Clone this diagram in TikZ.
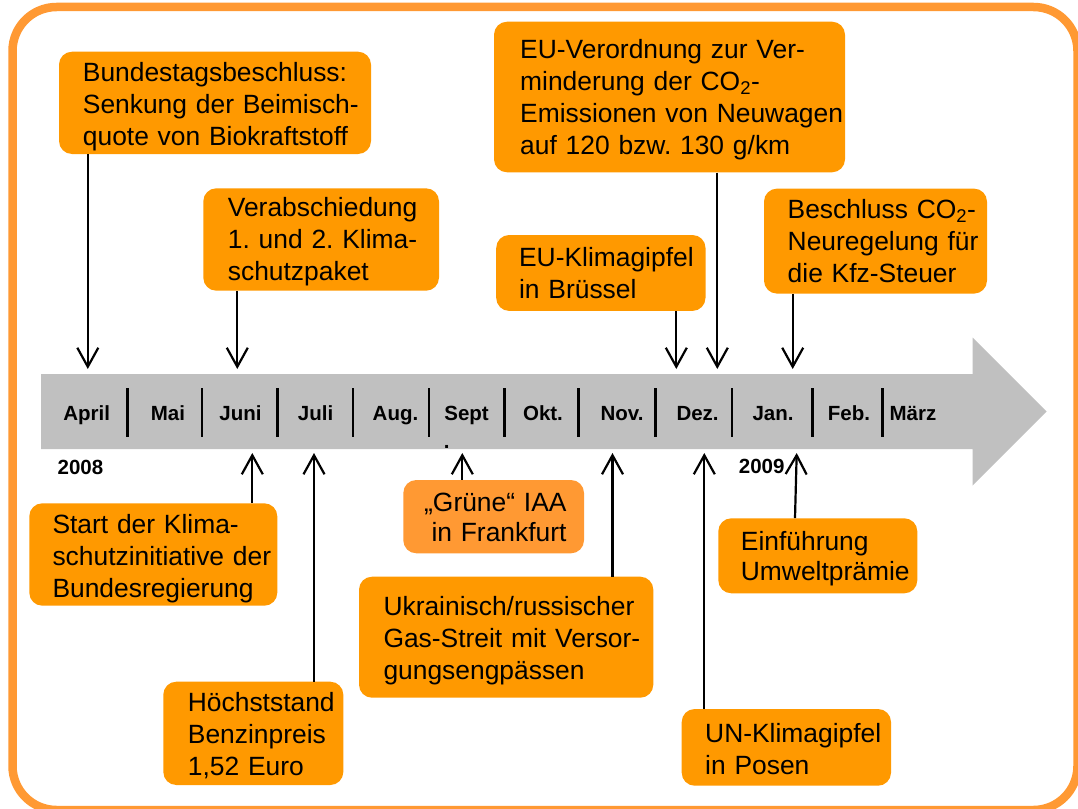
\documentclass[tikz,border=0pt]{standalone}
\usepackage{fontspec}
\setmainfont{Liberation Sans}
\usetikzlibrary{arrows.meta}
\definecolor{frameorange}{HTML}{FF9933}
\definecolor{boxorange}{HTML}{FF9900}
\definecolor{lightorange}{HTML}{FF9933}
\definecolor{arrowgray}{HTML}{C0C0C0}
\begin{document}
\frenchspacing
\begin{tikzpicture}[x=1pt,y=-1pt,
  box/.style={fill=boxorange, rounded corners=13pt, inner sep=0pt},
  lbox/.style={fill=lightorange, rounded corners=13pt, inner sep=0pt},
  txt/.style={anchor=base west, inner sep=0pt, text width=400pt, align=left,
    font=\fontsize{26.4}{32}\selectfont\frenchspacing},
  month/.style={anchor=base, inner sep=0pt, font=\bfseries\fontsize{20.5}{24}\selectfont},
  sepline/.style={line width=2.8pt, black},
  arr/.style={line width=2.2pt, -{Straight Barb[length=19pt,width=21pt]}}]
\useasboundingbox (0,0) rectangle (1078,808);
\fill[white] (0,0) rectangle (1078,808);
% frame
\draw[frameorange, line width=8.5pt, rounded corners=44pt] (12.5,7) rectangle (1077.5,810);
% timeline arrow
\fill[arrowgray] (41,374) -- (972.5,374) -- (972.5,337.5) -- (1046.7,411.5)
  -- (972.5,485.5) -- (972.5,449) -- (41,449) -- cycle;
% months
\node[month] (apr) at (86.6,420) {April};
\node[month] (mai) at (168,420) {Mai};
\node[month] (jun) at (240.5,420) {Juni};
\node[month] (jul) at (315.6,420) {Juli};
\node[month] (aug) at (395.5,420) {Aug.};
\node[month] (sep) at (466.6,420) {Sept};
\node[month] (okt) at (543,420) {Okt.};
\node[month] (nov) at (622,420) {Nov.};
\node[month] (dez) at (697.6,420) {Dez.};
\node[month] (jan) at (773,420) {Jan.};
\node[month] (feb) at (849,420) {Feb.};
\node[month] (mar) at (913,420) {März};
\node[month] (dot) at (446.7,448) {.};
\node[month] (y2008) at (80.5,474) {2008};
\node[month] (y2009) at (761.7,473) {2009};
% separators
\foreach \sx in {127.4,202,277.5,353,429,504.5,578.7,655.2,732,812.5,882.3}
  \draw[sepline] (\sx,388) -- (\sx,437);
% boxes
\node[box, minimum width=312pt, minimum height=102.3pt] (b1) at (215,102.85) {};
\node[txt] (b1t) at (82.7,81.7) {Bundestagsbeschluss:\\Senkung der Beimisch-\\quote von Biokraftstoff};
\node[box, minimum width=235.7pt, minimum height=102.4pt] (b2) at (321.15,239.5) {};
\node[txt] (b2t) at (227.7,216.7) {Verabschiedung\\1. und 2. Klima-\\schutzpaket};
\node[box, minimum width=351pt, minimum height=150.6pt] (b3) at (669.5,97) {};
\node[txt] (b3t) at (520,58.3) {EU-Verordnung zur Ver-\\minderung der CO\textsubscript{2}-\\Emissionen von Neuwagen\\auf 120 bzw. 130 g/km};
\node[box, minimum width=209.3pt, minimum height=75.9pt] (b4) at (600.85,272.95) {};
\node[txt] (b4t) at (518.9,266) {EU-Klimagipfel\\in Brüssel};
\node[box, minimum width=223pt, minimum height=105pt] (b5) at (875.5,241.1) {};
\node[txt] (b5t) at (787.5,218.6) {Beschluss CO\textsubscript{2}-\\Neuregelung für\\die Kfz-Steuer};
\node[box, minimum width=248pt, minimum height=102.4pt] (b6) at (153.3,554.5) {};
\node[txt] (b6t) at (52.3,533.3) {Start der Klima-\\schutzinitiative der\\Bundesregierung};
\node[box, minimum width=180pt, minimum height=103.3pt] (b7) at (253.3,733.35) {};
\node[txt] (b7t) at (187.7,711.7) {Höchststand\\Benzinpreis\\1,52 Euro};
\node[lbox, minimum width=180.7pt, minimum height=73.3pt] (b8) at (493.65,516.65) {};
\node[txt, anchor=base east, text width=200pt, align=right, font=\fontsize{26.4}{30}\selectfont] (b8t) at (566.7,511.7) {„Grüne“ IAA\\in Frankfurt};
\node[box, minimum width=294.3pt, minimum height=121pt] (b9) at (506.15,637.2) {};
\node[txt] (b9t) at (383.3,615) {Ukrainisch/russischer\\Gas-Streit mit Versor-\\gungsengpässen};
\node[box, minimum width=209.3pt, minimum height=76.7pt] (b10) at (786.35,747.35) {};
\node[txt] (b10t) at (705,742.3) {UN-Klimagipfel\\in Posen};
\node[box, minimum width=199pt, minimum height=75pt] (b11) at (817.8,555.8) {};
\node[txt, font=\fontsize{26.4}{30}\selectfont] (b11t) at (740.7,550) {Einführung\\Umweltprämie};
% arrow tips on the timeline
\coordinate (dApr) at (87.8,369);
\coordinate (dJun) at (237.3,369);
\coordinate (dKlima) at (676.3,369);
\coordinate (dVerord) at (717.3,369);
\coordinate (dBeschl) at (792.7,369);
\coordinate (uJun) at (252.3,453);
\coordinate (uJul) at (314,453);
\coordinate (uSep) at (462.3,453);
\coordinate (uNov) at (612.5,453);
\coordinate (uDez) at (704.3,453);
\coordinate (uJan) at (796.7,453);
% down arrows
\draw[arr] (dApr |- b1.south) -- (dApr);
\draw[arr] (dJun |- b2.south) -- (dJun);
\draw[arr] (dKlima |- b4.south) -- (dKlima);
\draw[arr] (dVerord |- b3.south) -- (dVerord);
\draw[arr] (dBeschl |- b5.south) -- (dBeschl);
% up arrows
\draw[arr] (uJun |- b6.north) -- (uJun);
\draw[arr] (uJul |- b7.north) -- (uJul);
\draw[arr] (uSep |- b8.north) -- (uSep);
\draw[arr] (uNov |- b9.north) -- (uNov);
\draw[arr] (uDez |- b10.north) -- (uDez);
\draw[arr] ([xshift=-22.8pt]b11.north) -- (uJan);
\end{tikzpicture}
\end{document}
